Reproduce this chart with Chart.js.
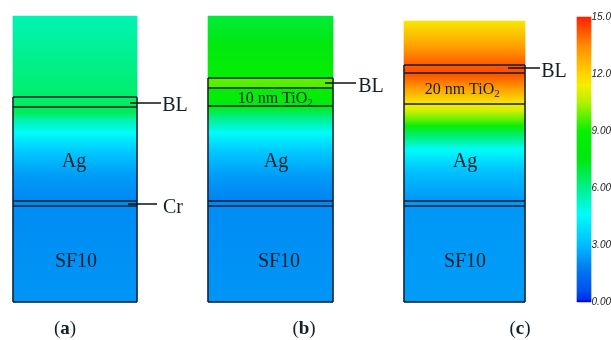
<!DOCTYPE html>
<html>
<head>
<meta charset="utf-8">
<script src="https://cdn.jsdelivr.net/npm/chart.js@4"></script>
<style>
  html, body { margin: 0; padding: 0; background: #fff; }
  #wrap { width: 611px; height: 340px; filter: blur(0.4px); }
</style>
</head>
<body>
<div id="wrap"><canvas id="myChart" width="611" height="340"></canvas></div>
<script>
// field strength along the depth of each structure
const depthA = [16, 60, 97, 112, 120, 133, 150, 175, 201, 207, 302];
const fieldA = [5.5, 6.0, 6.4, 6.7, 5.6, 4.6, 3.4, 2.4, 2.0, 2.1, 2.25];
const depthB = [16, 45, 77, 78, 88, 89, 106, 118, 133, 150, 175, 201, 207, 302];
const fieldB = [7.0, 7.7, 8.6, 9.8, 9.6, 8.5, 7.9, 6.0, 4.6, 3.4, 2.4, 1.9, 2.1, 2.25];
const depthC = [21, 45, 65, 73, 90, 104, 110, 118, 126, 135, 150, 170, 201, 207, 302];
const fieldC = [11.6, 13.0, 14.2, 14.4, 13.0, 11.5, 11.0, 10.0, 8.6, 6.4, 4.6, 3.2, 2.3, 2.3, 2.4];

// structure outlines
const panelLeft = [13, 208, 404];
const panelRight = [137, 333, 525];
const panelTop = [16, 16, 21];
const outlineTop = [97, 78, 65];
const panelBottom = 302;
const layerLinesA = [97, 107, 201, 206];
const layerLinesB = [78, 88, 106, 201, 206];
const layerLinesC = [65, 73, 104, 201, 206];

// colour scale
const scaleValues = [0, 0.15, 0.6, 1.7, 3, 4.6, 6, 7.5, 9, 10.6, 11.4, 12, 13.5, 15];
const scaleColors = ['#0000dc', '#0030e8', '#0050f0', '#0078f0', '#00bcff', '#00fcfc', '#00f08c',
  '#00e810', '#08f000', '#bcf000', '#f4f000', '#ffd400', '#ff8c00', '#ff2000'];
const scaleTicks = [0, 3, 6, 9, 12, 15];
const scaleTickLabels = ['0.00', '3.00', '6.00', '9.00', '12.0', '15.0'];

const textLabels = ['Ag', 'Ag', 'Ag', 'SF10', 'SF10', 'SF10', 'BL', 'BL', 'BL', 'Cr'];
const textX = [74, 276, 465, 76, 279, 465, 175, 371, 554, 173];
const textY = [162, 162, 162, 262, 262, 262, 106, 87, 72, 208];
const oxideLabels = ['10 nm TiO', '20 nm TiO'];
const oxideX = [276, 463];
const oxideY = [99, 90];
const panelLetters = ['a', 'b', 'c'];
const letterX = [65, 304, 520];
const leaderX0 = [130, 325, 508, 128];
const leaderX1 = [161, 356, 540, 157];
const leaderY = [103, 83, 68, 204];

const hex = c => [1, 3, 5].map(i => parseInt(c.substr(i, 2), 16));
const colorAt = v => {
  let i = 0;
  while (i < scaleValues.length - 2 && v > scaleValues[i + 1]) i++;
  const t = Math.min(1, Math.max(0, (v - scaleValues[i]) / (scaleValues[i + 1] - scaleValues[i])));
  const a = hex(scaleColors[i]), b = hex(scaleColors[i + 1]);
  return 'rgb(' + a.map((n, k) => Math.round(n + (b[k] - n) * t)).join(',') + ')';
};

const fieldFill = (depth, field) => ctx => {
  const y = ctx.chart.scales.y;
  if (!ctx.chart.chartArea) return '#000';
  const g = ctx.chart.ctx.createLinearGradient(0, y.getPixelForValue(depth[0]), 0, y.getPixelForValue(depth[depth.length - 1]));
  depth.forEach((d, i) => g.addColorStop((d - depth[0]) / (depth[depth.length - 1] - depth[0]), colorAt(field[i])));
  return g;
};

const scaleFill = ctx => {
  const y1 = ctx.chart.scales.y1;
  if (!ctx.chart.chartArea) return '#000';
  const g = ctx.chart.ctx.createLinearGradient(0, y1.getPixelForValue(0), 0, y1.getPixelForValue(15));
  scaleValues.forEach((v, i) => g.addColorStop(v / 15, scaleColors[i]));
  return g;
};

const panelBar = (i, depth, field) => ({
  type: 'bar',
  data: [{ x: (panelLeft[i] + panelRight[i]) / 2, y: [panelTop[i], panelBottom] }],
  backgroundColor: fieldFill(depth, field),
  barThickness: panelRight[i] - panelLeft[i],
  grouped: false,
  order: 2
});

// horizontal layer lines and sides, one broken line per panel
const outline = (i, lines) => {
  const pts = [];
  lines.concat(panelBottom).forEach(y => {
    pts.push({ x: panelLeft[i], y }, { x: panelRight[i], y }, { x: panelRight[i], y: null });
  });
  [panelLeft[i], panelRight[i]].forEach(x => {
    pts.push({ x, y: outlineTop[i] }, { x, y: panelBottom }, { x, y: null });
  });
  return { type: 'line', data: pts, borderColor: '#10202c', borderWidth: 1.5, pointRadius: 0, spanGaps: false, order: 1 };
};

const leaders = () => {
  const pts = [];
  leaderY.forEach((y, i) => pts.push({ x: leaderX0[i], y }, { x: leaderX1[i], y }, { x: leaderX1[i], y: null }));
  return { type: 'line', data: pts, borderColor: '#101010', borderWidth: 1.4, pointRadius: 0, spanGaps: false, order: 0 };
};

const textPlugin = {
  id: 'structureText',
  afterDatasetsDraw(chart) {
    const { ctx, scales: { x, y } } = chart;
    ctx.save();
    ctx.fillStyle = '#12202a';
    ctx.textBaseline = 'middle';
    ctx.textAlign = 'center';
    ctx.font = '20px "Liberation Serif"';
    textLabels.forEach((t, i) => ctx.fillText(t, x.getPixelForValue(textX[i]), y.getPixelForValue(textY[i])));
    ctx.textAlign = 'left';
    oxideLabels.forEach((t, i) => {
      ctx.font = '16px "Liberation Serif"';
      const w = ctx.measureText(t).width;
      const px = x.getPixelForValue(oxideX[i]) - (w + 7) / 2, py = y.getPixelForValue(oxideY[i]);
      ctx.fillText(t, px, py);
      ctx.font = '11px "Liberation Serif"';
      ctx.fillText('2', px + w, py + 4);
    });
    panelLetters.forEach((l, i) => {
      ctx.font = '19px "Liberation Serif"';
      const open = ctx.measureText('(').width;
      ctx.font = 'bold 19px "Liberation Serif"';
      const mid = ctx.measureText(l).width;
      const px = x.getPixelForValue(letterX[i]) - (open * 2 + mid) / 2, py = y.getPixelForValue(329);
      ctx.fillText(l, px + open, py);
      ctx.font = '19px "Liberation Serif"';
      ctx.fillText('(', px, py);
      ctx.fillText(')', px + open + mid, py);
    });
    ctx.restore();
  }
};

new Chart(document.getElementById('myChart'), {
  data: {
    datasets: [
      panelBar(0, depthA, fieldA),
      panelBar(1, depthB, fieldB),
      panelBar(2, depthC, fieldC),
      outline(0, layerLinesA),
      outline(1, layerLinesB),
      outline(2, layerLinesC),
      leaders(),
      {
        type: 'bar',
        data: [{ x: 584, y: [0, 15] }],
        yAxisID: 'y1',
        backgroundColor: scaleFill,
        barThickness: 14,
        grouped: false,
        order: 2
      }
    ]
  },
  plugins: [textPlugin],
  options: {
    responsive: false,
    animation: false,
    layout: { padding: 0, autoPadding: false },
    plugins: { legend: { display: false }, tooltip: { enabled: false } },
    scales: {
      x: { type: 'linear', min: 0, max: 611, offset: false, display: false },
      y: { type: 'linear', min: 0, max: 340, reverse: true, display: false },
      y1: {
        type: 'linear',
        position: { x: 611 },
        min: -2,
        max: 15.895,
        grid: { display: false, drawTicks: false },
        border: { display: false },
        afterBuildTicks: axis => { axis.ticks = scaleTicks.map(value => ({ value })); },
        afterFit: axis => { axis.paddingTop = 0; axis.paddingBottom = 0; axis.paddingLeft = 0; axis.paddingRight = 0; },
        ticks: {
          callback: v => scaleTickLabels[scaleTicks.indexOf(v)],
          color: '#222',
          padding: 0,
          font: { family: '"Liberation Sans Narrow", "Liberation Sans"', style: 'italic', size: 10 }
        }
      }
    }
  }
});
</script>
</body>
</html>
